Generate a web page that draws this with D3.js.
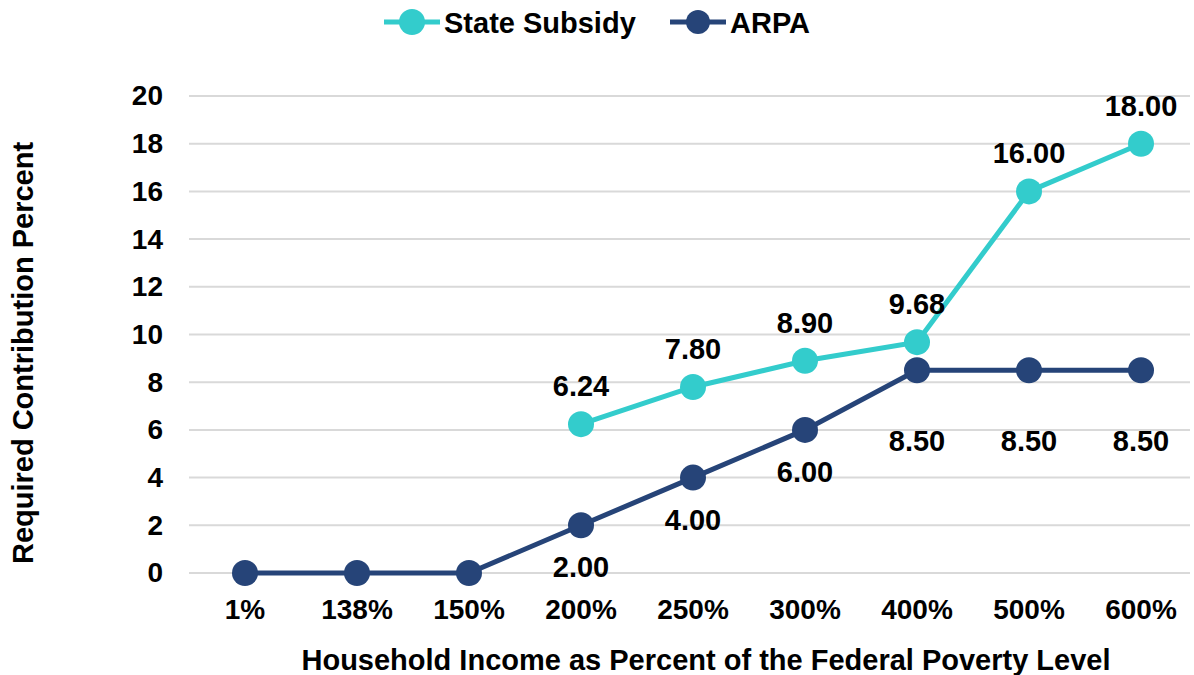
<!DOCTYPE html>
<html><head><meta charset="utf-8">
<script src="https://cdn.jsdelivr.net/npm/d3@7"></script>
<style>body{margin:0;background:#fff;}svg{font-family:"Liberation Sans",Arial,sans-serif;font-weight:bold;}</style>
</head><body>
<svg id="c" width="1194" height="675"></svg>
<script>
const categories = ["1%","138%","150%","200%","250%","300%","400%","500%","600%"];
const stateSubsidy = [null,null,null,6.24,7.80,8.90,9.68,16.00,18.00];
const arpa = [0,0,0,2.00,4.00,6.00,8.50,8.50,8.50];
const yTicks = [0,2,4,6,8,10,12,14,16,18,20];

const svg = d3.select("#c");
const teal = "#33CCCC", navy = "#264478";
const FS = 29;
const x = d3.scaleBand().domain(categories).range([189,1197]).padding(0);
const cx = c => x(c) + x.bandwidth()/2;
const y = d3.scaleLinear().domain([0,20]).range([573,96]);

// grid
svg.append("g").selectAll("line").data(yTicks).join("line")
  .attr("x1",189).attr("x2",1190).attr("y1",d=>y(d)).attr("y2",d=>y(d))
  .attr("stroke","#d9d9d9").attr("stroke-width",2);

const yAxis = svg.append("g").attr("transform","translate(189,0)")
  .call(d3.axisLeft(y).tickValues(yTicks).tickSize(0).tickPadding(26));
yAxis.select(".domain").remove();
yAxis.selectAll("text").attr("font-size",FS-1).attr("font-family","Liberation Sans, Arial").attr("font-weight","bold").attr("fill","#000");

const xAxis = svg.append("g").attr("transform","translate(0,592)")
  .call(d3.axisBottom(x).tickSize(0));
xAxis.select(".domain").remove();
xAxis.selectAll("text").attr("y",27).attr("dy","0").attr("font-size",FS-1).attr("font-family","Liberation Sans, Arial").attr("font-weight","bold").attr("fill","#000");

function series(vals,color){
  const pts = categories.map((c,i)=>({c,v:vals[i],i})).filter(d=>d.v!==null);
  svg.append("path").datum(pts)
    .attr("d",d3.line().x(d=>cx(d.c)).y(d=>y(d.v)))
    .attr("fill","none").attr("stroke",color).attr("stroke-width",5);
  svg.append("g").selectAll("circle").data(pts).join("circle")
    .attr("cx",d=>cx(d.c)).attr("cy",d=>y(d.v)).attr("r",13).attr("fill",color);
  return pts;
}
const ssPts = series(stateSubsidy, teal);
const arPts = series(arpa, navy);

svg.append("g").selectAll("text").data(ssPts).join("text")
  .attr("x",d=>cx(d.c)).attr("y",d=>y(d.v)-28).attr("text-anchor","middle")
  .attr("font-size",FS).attr("fill","#000").text(d=>d.v.toFixed(2));
svg.append("g").selectAll("text").data(arPts.filter(d=>d.i>=3)).join("text")
  .attr("x",d=>cx(d.c)).attr("y",d=>y(d.v)+(d.i>=6?81:52)).attr("text-anchor","middle")
  .attr("font-size",FS).attr("fill","#000").text(d=>d.v.toFixed(2));

// titles
svg.append("text").attr("x",706).attr("y",670).attr("text-anchor","middle")
  .attr("font-size",FS).attr("fill","#000").text("Household Income as Percent of the Federal Poverty Level");
svg.append("text").attr("transform","translate(33,353) rotate(-90)").attr("text-anchor","middle")
  .attr("font-size",FS).attr("fill","#000").text("Required Contribution Percent");

// legend
const legend = [{name:"State Subsidy",color:teal,x:384,r:13},{name:"ARPA",color:navy,x:670,r:12}];
const lg = svg.append("g").selectAll("g").data(legend).join("g").attr("transform",d=>`translate(${d.x},22)`);
lg.append("line").attr("x1",0).attr("x2",56).attr("stroke",d=>d.color).attr("stroke-width",5);
lg.append("circle").attr("cx",28).attr("r",d=>d.r).attr("fill",d=>d.color);
lg.append("text").attr("x",60).attr("y",11).attr("font-size",FS).attr("fill","#000").text(d=>d.name);
</script>
</body></html>
